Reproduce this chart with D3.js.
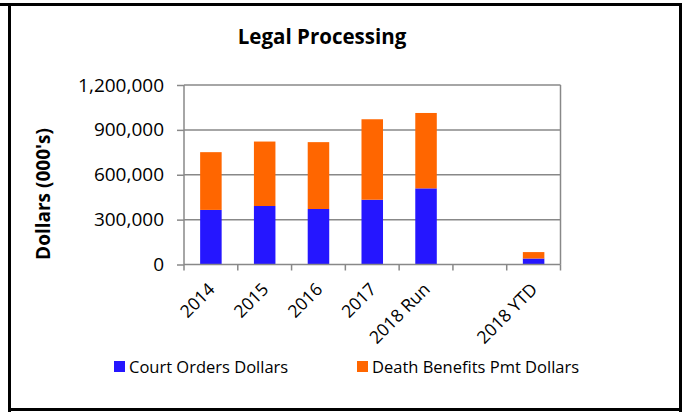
<!DOCTYPE html>
<html lang="en">
<head>
    <meta charset="UTF-8">
    <title>Legal Processing</title>
    <style>
        body{margin:0; background:#fff;}
        svg{display:block;}
        text{font-family: "Open Sans", Lato, sans-serif; fill:#000;}
    </style>
</head>
<body>
    <div id="chart"></div>
    <script src="https://cdn.jsdelivr.net/npm/d3@7"></script>
    <script>
        // data (dollars, 000's)
        var categories = ['2014', '2015', '2016', '2017', '2018 Run', '', '2018 YTD'];
        var courtOrders = [365000, 391000, 371000, 433000, 509000, 0, 40000];
        var deathBenefits = [386000, 431000, 447000, 538000, 504000, 0, 43000];
        var seriesNames = ['Court Orders Dollars', 'Death Benefits Pmt Dollars'];
        var seriesColors = ['#2516ff', '#ff6600'];
        var yTicks = [0, 300000, 600000, 900000, 1200000];

        var width = 682, height = 412;
        var plotL = 184, plotR = 560.5, plotT = 85, plotB = 264.5;

        var svg = d3.select('#chart').append('svg')
            .attr('width', width).attr('height', height);

        // outer frame
        var frame = svg.append('g').attr('fill', '#000');
        frame.append('rect').attr('x', 0).attr('y', 3).attr('width', width).attr('height', 3);
        frame.append('rect').attr('x', 8).attr('y', 3).attr('width', 3).attr('height', height - 3);
        frame.append('rect').attr('x', 679).attr('y', 3).attr('width', 3).attr('height', height - 3);
        frame.append('rect').attr('x', 8).attr('y', 408).attr('width', 674).attr('height', 3);

        var xScale = d3.scaleBand()
            .domain(d3.range(categories.length))
            .range([plotL, plotR]);
        var yScale = d3.scaleLinear()
            .domain([0, 1200000])
            .range([plotB, plotT]);

        // gridlines
        svg.append('g').selectAll('line')
            .data(yTicks.slice(1))
            .enter().append('line')
            .attr('x1', plotL).attr('x2', plotR)
            .attr('y1', function(d){ return yScale(d); })
            .attr('y2', function(d){ return yScale(d); })
            .attr('stroke', '#888').attr('stroke-width', 1.5);
        // plot area right border
        svg.append('line')
            .attr('x1', plotR).attr('x2', plotR).attr('y1', plotT).attr('y2', plotB)
            .attr('stroke', '#888').attr('stroke-width', 1.5);

        // stacked bars
        var stackData = categories.map(function(c, i){
            return {i: i, a: courtOrders[i], b: deathBenefits[i]};
        });
        var stack = d3.stack().keys(['a', 'b'])(stackData);
        var barW = xScale.bandwidth() * 0.4;

        svg.append('g').selectAll('g')
            .data(stack)
            .enter().append('g')
            .attr('fill', function(d, k){ return seriesColors[k]; })
            .selectAll('rect')
            .data(function(d){ return d; })
            .enter().append('rect')
            .attr('x', function(d){ return xScale(d.data.i) + (xScale.bandwidth() - barW) / 2; })
            .attr('width', barW)
            .attr('y', function(d){ return yScale(d[1]); })
            .attr('height', function(d){ return yScale(d[0]) - yScale(d[1]); });

        // y axis
        var yAxis = d3.axisLeft(yScale).tickValues(yTicks)
            .tickFormat(d3.format(',')).tickSize(7).tickPadding(13);
        var gy = svg.append('g').attr('transform', 'translate(' + plotL + ',0)').call(yAxis);
        gy.select('.domain').attr('stroke', '#888').attr('stroke-width', 1.5).attr('d', 'M0,' + plotT + 'V' + plotB);
        gy.selectAll('.tick line').attr('stroke', '#888').attr('stroke-width', 1.5);
        gy.selectAll('.tick text').style('font-size', '19px').attr('fill', '#000')
            .style('font-family', '"Open Sans", Lato, sans-serif');

        // x axis
        var xAxis = d3.axisBottom(xScale).tickSize(0).tickFormat('');
        var gx = svg.append('g').attr('transform', 'translate(0,' + plotB + ')').call(xAxis);
        gx.select('.domain').attr('stroke', '#888').attr('stroke-width', 1.5).attr('d', 'M' + plotL + ',0H' + plotR);
        gx.selectAll('.tick').remove();
        gx.selectAll('.sep')
            .data(d3.range(categories.length + 1))
            .enter().append('line')
            .attr('x1', function(i){ return plotL + i * xScale.step(); })
            .attr('x2', function(i){ return plotL + i * xScale.step(); })
            .attr('y1', 0).attr('y2', 6)
            .attr('stroke', '#888').attr('stroke-width', 1.5);
        gx.selectAll('.lbl')
            .data(categories)
            .enter().append('text')
            .attr('text-anchor', 'end')
            .attr('transform', function(d, i){
                var x = xScale(i) + xScale.bandwidth() / 2 + 5;
                return 'translate(' + x + ',26) rotate(-45)';
            })
            .style('font-size', '17.5px')
            .text(function(d){ return d; });

        // title
        svg.append('text')
            .attr('x', 322).attr('y', 44)
            .attr('text-anchor', 'middle')
            .style('font-size', '20.5px').style('font-weight', 'bold')
            .text('Legal Processing');

        // y axis title
        svg.append('text')
            .attr('transform', 'translate(50,194) rotate(-90)')
            .attr('text-anchor', 'middle')
            .style('font-size', '19px').style('font-weight', 'bold')
            .text("Dollars (000's)");

        // legend
        var legendX = [114, 357];
        var legend = svg.append('g').selectAll('g')
            .data(seriesNames)
            .enter().append('g')
            .attr('transform', function(d, i){ return 'translate(' + legendX[i] + ',361)'; });
        legend.append('rect')
            .attr('width', 11).attr('height', 11)
            .attr('fill', function(d, i){ return seriesColors[i]; });
        legend.append('text')
            .attr('x', 15).attr('y', 11.5)
            .style('font-size', '16.5px')
            .text(function(d){ return d; });
    </script>
</body>
</html>
